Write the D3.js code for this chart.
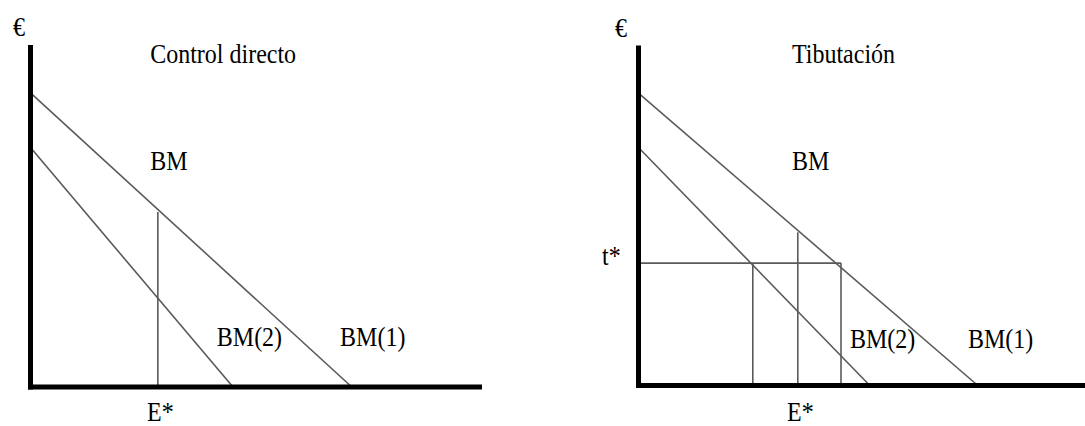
<!DOCTYPE html>
<html>
<head>
<meta charset="utf-8">
<script src="https://cdn.jsdelivr.net/npm/d3@7"></script>
<style>
  body { margin: 0; background: #fff; }
  svg { display: block; }
  text { font-family: "Liberation Serif", "Times New Roman", serif; font-size: 24px; fill: #000; }
</style>
</head>
<body>
<svg id="chart" width="1085" height="426"></svg>
<script>
// values in abstract units (0..100 on both axes)
const titles = ["Control directo", "Tibutación"];

// left panel: direct control
const leftBM1 = [[0, 86], [71.4, 0]];
const leftBM2 = [[0, 70], [45, 0]];
const leftEstar = [[28.3, 0], [28.3, 51.2]];

// right panel: taxation
const rightBM1 = [[0, 86], [75.4, 0]];
const rightBM2 = [[0, 70], [51.4, 0]];
const rightTstar = [[0, 36], [45, 36]];
const rightVerticals = [
    [[25.4, 0], [25.4, 36]],
    [[35.4, 0], [35.4, 45.1]],
    [[45, 0], [45, 36]]
];

// labels: [text, x, y]
const leftLabels = [
    ["€", -3.9, 102.6],
    [titles[0], 26.6, 94.7],
    ["BM", 26.6, 63.5],
    ["BM(2)", 41.4, 12],
    ["BM(1)", 68.8, 12],
    ["E*", 25.9, -10]
];
const rightLabels = [
    ["€", -5.2, 102.6],
    [titles[1], 34.1, 94.9],
    ["BM", 34.1, 63.4],
    ["BM(2)", 47, 11],
    ["BM(1)", 73.2, 11],
    ["E*", 33, -10.5],
    ["t*", -8.1, 35.4]
];

var svg = d3.select("#chart");

function drawPanel(xRange, yRange, axisEndX, lines, labels) {
    var x = d3.scaleLinear().domain([0, 100]).range(xRange);
    var y = d3.scaleLinear().domain([0, 100]).range(yRange);
    var g = svg.append("g");

    var line = d3.line()
        .x(function (d) { return x(d[0]); })
        .y(function (d) { return y(d[1]); });

    lines.forEach(function (pts) {
        g.append("path")
            .attr("d", line(pts))
            .attr("fill", "none")
            .attr("stroke", "#5a5a5a")
            .attr("stroke-width", 1.6);
    });

    // axes
    g.append("line")
        .attr("x1", x(0)).attr("x2", x(0))
        .attr("y1", y(100)).attr("y2", y(0) + 2.5)
        .attr("stroke", "#000").attr("stroke-width", 5);
    g.append("line")
        .attr("x1", x(0) - 2.5).attr("x2", axisEndX)
        .attr("y1", y(0)).attr("y2", y(0))
        .attr("stroke", "#000").attr("stroke-width", 5);

    labels.forEach(function (l) {
        g.append("text")
            .attr("transform", "translate(" + x(l[1]) + "," + y(l[2]) + ") scale(1,1.1)")
            .text(l[0]);
    });
}

drawPanel([30.5, 480.5], [387, 45], 482,
    [leftBM1, leftBM2, leftEstar], leftLabels);
drawPanel([638.5, 1088.5], [385.5, 45.5], 1085,
    [rightBM1, rightBM2, rightTstar].concat(rightVerticals), rightLabels);
</script>
</body>
</html>
